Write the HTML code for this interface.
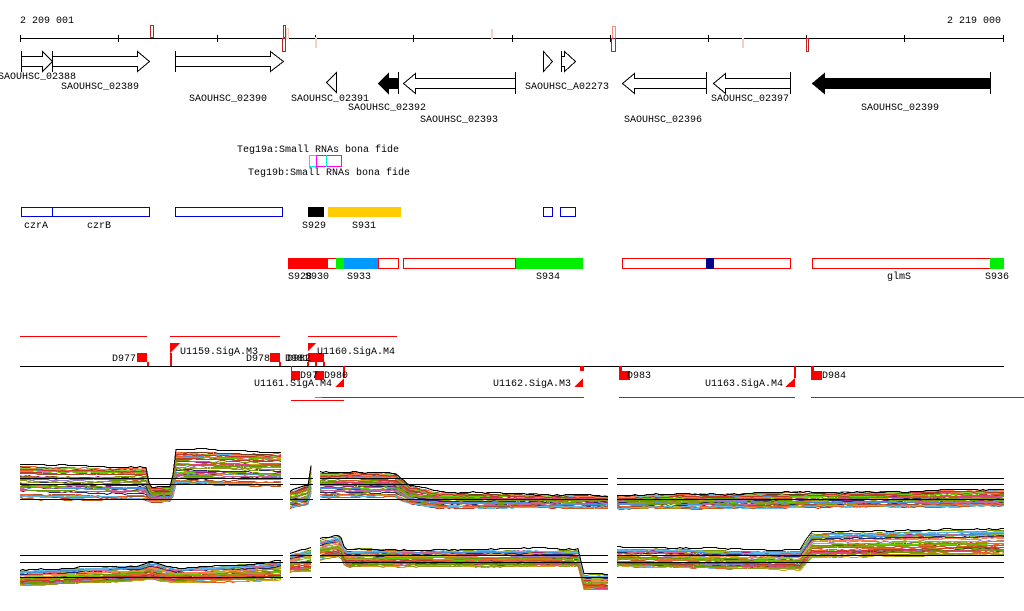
<!DOCTYPE html>
<html><head><meta charset="utf-8"><style>
html,body{margin:0;padding:0;background:#fff;}
svg{display:block;}
text{font-family:"Liberation Mono","DejaVu Sans Mono",monospace;font-size:10px;fill:#000;}
</style></head><body>
<svg id="s" width="1024" height="611" viewBox="0 0 1024 611" xmlns="http://www.w3.org/2000/svg" shape-rendering="crispEdges">
<!-- ruler -->
<text x="20" y="23">2 209 001</text>
<text x="1001" y="23" text-anchor="end">2 219 000</text>
<line x1="20" y1="38.5" x2="1004" y2="38.5" stroke="#000"/>
<g stroke="#000">
<line x1="20.5" y1="35" x2="20.5" y2="42"/><line x1="118.5" y1="35" x2="118.5" y2="42"/><line x1="217.5" y1="35" x2="217.5" y2="42"/><line x1="315.5" y1="35" x2="315.5" y2="42"/><line x1="413.5" y1="35" x2="413.5" y2="42"/><line x1="512.5" y1="35" x2="512.5" y2="42"/><line x1="610.5" y1="35" x2="610.5" y2="42"/><line x1="708.5" y1="35" x2="708.5" y2="42"/><line x1="806.5" y1="35" x2="806.5" y2="42"/><line x1="904.5" y1="35" x2="904.5" y2="42"/><line x1="1003.5" y1="35" x2="1003.5" y2="42"/>
</g>
<g fill="none">
<rect x="150.5" y="25.5" width="3" height="12" stroke="#b22"/>
<rect x="283.5" y="25.5" width="2" height="12" stroke="#b22"/>
<rect x="282.5" y="38.5" width="3" height="13" stroke="#b22"/>
<rect x="286.5" y="28.5" width="2" height="10" stroke="#f5d0c0"/>
<rect x="315.5" y="37.5" width="1" height="10" stroke="#f5d0c0"/>
<rect x="491" y="29" width="2" height="10" fill="#f5d0c0" stroke="none"/>
<rect x="612.5" y="26.5" width="3" height="12" stroke="#f87"/>
<rect x="611.5" y="38.5" width="4" height="13" stroke="#b22"/>
<rect x="742" y="38" width="2" height="10" fill="#f5d0c0" stroke="none"/>
<rect x="806.5" y="38.5" width="2" height="13" stroke="#b22"/>
</g>
<!-- genes -->
<g stroke="#000" fill="#fff">
<polygon points="21.5,56.5 42.5,56.5 42.5,51.5 52.5,61.5 42.5,71.5 42.5,66.5 21.5,66.5"/>
<line x1="21.5" y1="51" x2="21.5" y2="72"/>
<polygon points="52.5,56.5 137.5,56.5 137.5,51.5 149.5,61.5 137.5,71.5 137.5,66.5 52.5,66.5"/>
<line x1="52.5" y1="51" x2="52.5" y2="72"/>
<polygon points="175.5,56.5 270.5,56.5 270.5,51.5 283.5,61.5 270.5,71.5 270.5,66.5 175.5,66.5"/>
<line x1="175.5" y1="51" x2="175.5" y2="72"/>
<polygon points="543.5,51.5 552.5,61.5 543.5,71.5"/>
<polygon points="561.5,56.5 564.5,56.5 564.5,51.5 575.5,61.5 564.5,71.5 564.5,66.5 561.5,66.5"/>
<line x1="561.5" y1="51" x2="561.5" y2="72"/>
<polygon points="336.5,72.5 326.5,82.5 336.5,92.5"/>
<polygon points="378.5,83.5 388.5,73.5 388.5,78.5 398.5,78.5 398.5,88.5 388.5,88.5 388.5,93.5" fill="#000"/>
<line x1="398.5" y1="72" x2="398.5" y2="94"/>
<polygon points="403.5,83.5 415.5,73.5 415.5,78.5 515.5,78.5 515.5,88.5 415.5,88.5 415.5,93.5"/>
<line x1="515.5" y1="72" x2="515.5" y2="94"/>
<polygon points="622.5,83.5 634.5,73.5 634.5,78.5 706.5,78.5 706.5,88.5 634.5,88.5 634.5,93.5"/>
<line x1="706.5" y1="72" x2="706.5" y2="94"/>
<polygon points="713.5,83.5 725.5,73.5 725.5,78.5 790.5,78.5 790.5,88.5 725.5,88.5 725.5,93.5"/>
<line x1="790.5" y1="72" x2="790.5" y2="94"/>
<polygon points="812.5,83.5 824.5,73.5 824.5,78.5 990.5,78.5 990.5,88.5 824.5,88.5 824.5,93.5" fill="#000"/>
<line x1="990.5" y1="72" x2="990.5" y2="94"/>
</g>
<text x="-2" y="79">SAOUHSC_02388</text>
<text x="61" y="89">SAOUHSC_02389</text>
<text x="189" y="101">SAOUHSC_02390</text>
<text x="291" y="101">SAOUHSC_02391</text>
<text x="348" y="110">SAOUHSC_02392</text>
<text x="420" y="122">SAOUHSC_02393</text>
<text x="525" y="89">SAOUHSC_A02273</text>
<text x="624" y="122">SAOUHSC_02396</text>
<text x="711" y="101">SAOUHSC_02397</text>
<text x="861" y="110">SAOUHSC_02399</text>
<!-- sRNA -->
<text x="237" y="152">Teg19a:Small RNAs bona fide</text>
<rect x="309.5" y="155.5" width="17" height="11" fill="none" stroke="#0ee"/>
<rect x="316.5" y="155.5" width="25" height="11" fill="none" stroke="#f0f"/>
<line x1="326.5" y1="155" x2="326.5" y2="167" stroke="#0ee"/>
<text x="248" y="175">Teg19b:Small RNAs bona fide</text>
<!-- blue row -->
<g fill="none" stroke="#00d">
<rect x="21.5" y="207.5" width="128" height="9"/>
<line x1="52.5" y1="207" x2="52.5" y2="217"/>
<rect x="175.5" y="207.5" width="107" height="9"/>
<rect x="543.5" y="207.5" width="9" height="9"/>
<rect x="560.5" y="207.5" width="15" height="9"/>
</g>
<rect x="308" y="207" width="16" height="10" fill="#000"/>
<rect x="328" y="207" width="73" height="10" fill="#fc0"/>
<text x="24" y="228">czrA</text><text x="87" y="228">czrB</text>
<text x="302" y="228">S929</text><text x="352" y="228">S931</text>
<!-- red row -->
<rect x="288" y="258" width="39" height="11" fill="#f00"/>
<rect x="327.5" y="258.5" width="9" height="10" fill="#fff" stroke="#f00"/>
<rect x="336" y="258" width="8" height="11" fill="#0e0"/>
<rect x="344" y="258" width="34" height="11" fill="#09f"/>
<rect x="378.5" y="258.5" width="20" height="10" fill="none" stroke="#f00"/>
<rect x="403.5" y="258.5" width="112" height="10" fill="none" stroke="#f00"/>
<rect x="516" y="258" width="67" height="11" fill="#0e0"/>
<rect x="622.5" y="258.5" width="168" height="10" fill="none" stroke="#f00"/>
<rect x="706" y="258" width="8" height="11" fill="#008"/>
<rect x="812.5" y="258.5" width="178" height="10" fill="none" stroke="#f00"/>
<rect x="990" y="258" width="14" height="11" fill="#0e0"/>
<text x="288" y="279">S928</text><text x="305" y="279">S930</text>
<text x="347" y="279">S933</text><text x="536" y="279">S934</text>
<text x="887" y="279">glmS</text><text x="985" y="279">S936</text>
<!-- terminators / promoters -->
<g stroke="#f00">
<line x1="20" y1="336.5" x2="147" y2="336.5"/><line x1="170" y1="336.5" x2="280" y2="336.5"/><line x1="308" y1="336.5" x2="397" y2="336.5"/>
<line x1="291" y1="400.5" x2="344" y2="400.5"/>
<line x1="322" y1="397.5" x2="584" y2="397.5"/><line x1="619" y1="397.5" x2="795" y2="397.5"/><line x1="811" y1="397.5" x2="1024" y2="397.5"/>
</g>
<line x1="315" y1="397.5" x2="322" y2="397.5" stroke="#0d0"/>
<line x1="20" y1="366.5" x2="1004" y2="366.5" stroke="#000"/>
<g fill="#f00">
<rect x="137" y="353" width="10" height="9"/><rect x="147" y="362" width="2" height="4"/>
<polygon points="170,343 180,343 170,353"/><rect x="170" y="353" width="2" height="13"/>
<rect x="270" y="353" width="10" height="9"/><rect x="279" y="362" width="2" height="4"/>
<polygon points="308,343 316,343 308,351"/>
<rect x="308" y="353" width="16" height="9"/><rect x="307" y="362" width="2" height="4"/><rect x="315" y="362" width="2" height="4"/><rect x="323" y="362" width="2" height="4"/>
<rect x="291" y="371" width="9" height="9"/><rect x="291" y="366" width="1" height="5"/>
<rect x="315" y="371" width="9" height="9"/>
<polygon points="335,387 344,387 344,378"/><rect x="343" y="366" width="2" height="12"/>
<polygon points="574,387 583,387 583,378"/><rect x="580" y="366" width="4" height="5"/>
<rect x="619" y="371" width="11" height="9"/><rect x="619" y="366" width="3" height="5"/>
<polygon points="785,387 795,387 795,378"/><rect x="794" y="366" width="2" height="12"/>
<rect x="811" y="371" width="11" height="9"/><rect x="811" y="366" width="3" height="5"/>
</g>
<text x="112" y="361">D977</text>
<text x="180" y="354">U1159.SigA.M3</text>
<text x="246" y="361">D978</text>
<text x="285" y="361">D981</text><text x="287" y="361">D982</text>
<text x="317" y="354">U1160.SigA.M4</text>
<text x="254" y="386">U1161.SigA.M4</text>
<text x="300" y="378">D97</text><text x="324" y="378">D980</text>
<text x="493" y="386">U1162.SigA.M3</text>
<text x="627" y="378">D983</text>
<text x="705" y="386">U1163.SigA.M4</text>
<text x="822" y="378">D984</text>
<g id="plots"></g>
</svg>
<script>
(function(){
var g=document.getElementById('plots');var NS='http://www.w3.org/2000/svg';
var seed=7;function r(){seed=(seed*16807)%2147483647;return seed/2147483647;}
var pal=['#e8602c','#c0392b','#8e9a1a','#5db8e8','#a0207a','#6b3a1a','#7a9a00','#d4a020','#ff7f50','#9a7cc8','#2a2a6a','#8dc63f','#cc6699','#b8860b','#c85a1a','#66cc00','#4a90d9','#a05030','#dd4477','#669900'];
function interp(pts,x){for(var i=0;i<pts.length-1;i++){if(x<=pts[i+1][0]){var t=(x-pts[i][0])/(pts[i+1][0]-pts[i][0]||1);return[pts[i][1]+t*(pts[i+1][1]-pts[i][1]),pts[i][2]+t*(pts[i+1][2]-pts[i][2])];}}var l=pts[pts.length-1];return[l[1],l[2]];}
function plot(segs,hl){
 var N=45;
 for(var k=0;k<N;k++){
  var off=r()*2-1, col=k==N-1?'#000':pal[k%pal.length]; if(k==N-1)off=-1.15;
  segs.forEach(function(pts){
   var x0=pts[0][0],x1=pts[pts.length-1][0],d='',w=0;
   for(var x=x0;x<=x1;x+=3){w+= (r()-0.5)*1.2; w*=0.9; var v=interp(pts,x);var y=Math.round(v[0]+off*v[1]+w)+0.5; d+=(x==x0?'M':'L')+x+','+y+' ';}
   var p=document.createElementNS(NS,'path');p.setAttribute('d',d);p.setAttribute('fill','none');p.setAttribute('stroke',col);p.setAttribute('stroke-width','1');g.appendChild(p);
  });
 }
 hl.forEach(function(y){segs.forEach(function(pts){var l=document.createElementNS(NS,'line');l.setAttribute('x1',pts[0][0]);l.setAttribute('x2',pts[pts.length-1][0]);l.setAttribute('y1',y+0.5);l.setAttribute('y2',y+0.5);l.setAttribute('stroke','#000');g.appendChild(l);});});
}
plot([
 [[20,482,16],[146,484,16],[150,494,7],[172,494,7],[175,468,16],[283,470,16]],
 [[290,500,8],[308,495,9],[313,470,16]],
 [[320,485,12],[395,485,12],[410,495,9],[440,500,7],[608,502,6]],
 [[617,502,6],[1004,498,8]]
],[478,484,499]);
plot([
 [[20,578,7],[140,573,7],[150,570,9],[175,575,7],[260,572,8],[283,570,9]],
 [[290,563,9],[312,560,11]],
 [[320,550,10],[340,546,10],[345,558,8],[578,558,8],[584,582,7],[608,582,7]],
 [[617,557,9],[800,560,9],[812,545,12],[1004,542,12]]
],[555,562,577]);
})();
</script>
</body></html>
